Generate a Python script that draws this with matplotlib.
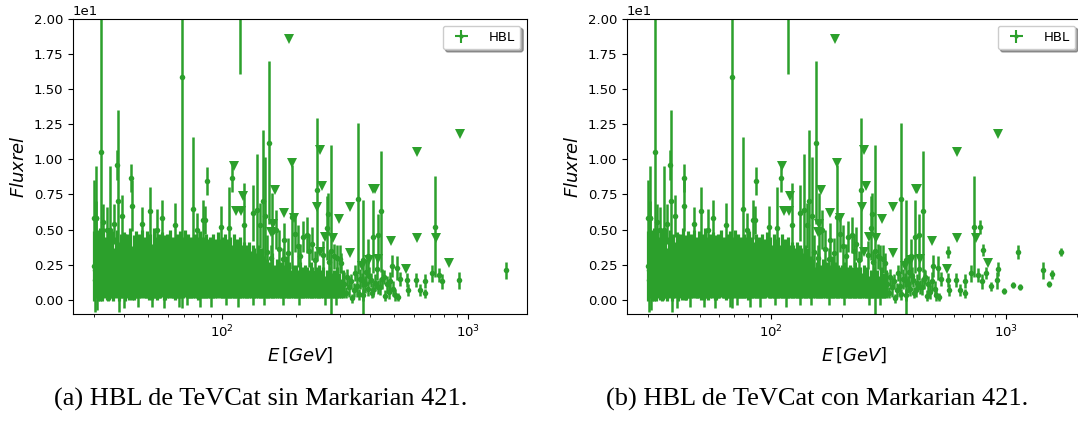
import matplotlib
matplotlib.use("Agg")
import matplotlib.pyplot as plt
import numpy as np

# HBL spectral points from TeVCat: energy [GeV], relative flux and its error.
# Low-energy bulk of the measurements
e_core = [30.0, 30.3, 30.9, 31.2, 31.8, 32.5, 32.9, 33.4, 34.0, 34.4,
          34.8, 35.2, 35.6, 36.1, 36.9, 37.3, 38.0, 38.6, 39.1, 39.9,
          40.4, 41.0, 41.8, 42.3, 43.1, 43.7, 44.5, 45.0, 45.9, 46.6,
          47.2, 48.1, 48.8, 49.5, 50.4, 51.0, 51.9, 52.8, 53.5, 54.3,
          55.2, 56.1, 56.9, 57.8, 58.6, 59.7, 60.5, 61.4, 62.5, 63.3,
          64.4, 65.2, 66.3, 67.4, 68.2, 69.5, 70.4, 71.6, 72.7, 73.8,
          74.9, 76.2, 77.3, 78.6, 79.8, 81.0, 82.4, 83.6, 85.0, 86.2,
          87.7, 89.0, 90.5, 91.8, 93.4, 94.8, 96.4, 97.9, 99.5, 101.0,
          102.8, 104.3, 106.1, 107.7, 109.5, 111.2, 113.1, 114.8, 116.8, 118.6,
          120.6, 122.5, 124.6, 126.5, 128.7, 130.7, 132.9, 135.0, 137.3, 139.5,
          141.8, 144.1, 146.5, 148.8, 151.4, 153.8, 156.4, 158.9, 161.6, 164.2,
          167.0, 169.7, 172.6, 175.4, 178.4, 181.3, 184.4, 187.4, 190.6, 193.7,
          197.0, 200.2, 203.6, 207.0, 210.5, 214.0, 217.6, 221.2, 225.0, 228.7,
          232.5, 236.4, 240.4, 244.3, 248.5, 252.6, 256.9, 261.2, 265.5, 270.0,
          274.6, 279.2, 283.9, 288.7, 293.5, 298.4, 303.4, 308.5]
flux_core = [2.4, 2.1, 2.6, 2.2, 2.5, 2.0, 2.7, 2.3, 1.9, 2.4,
             2.3, 2.2, 2.5, 1.8, 2.3, 2.6, 2.0, 2.4, 2.1, 2.5,
             2.3, 2.4, 2.2, 2.6, 1.9, 2.3, 2.5, 2.1, 2.4, 2.2,
             2.6, 2.3, 2.1, 2.5, 2.2, 2.4, 2.0, 2.6, 2.3, 2.1,
             2.4, 2.2, 2.5, 2.0, 2.3, 2.4, 2.1, 2.6, 2.2, 2.3,
             2.0, 2.4, 2.2, 2.5, 2.1, 2.3, 2.6, 2.0, 2.4, 2.2,
             2.3, 2.1, 2.4, 2.3, 2.0, 2.5, 2.2, 2.3, 2.1, 2.4,
             2.2, 2.3, 2.0, 2.4, 2.2, 2.1, 2.5, 2.2, 2.3, 2.0,
             2.4, 2.2, 2.1, 2.3, 2.0, 2.4, 2.1, 2.2, 1.9, 2.3,
             2.0, 2.1, 2.0, 1.9, 2.1, 1.8, 2.0, 1.9, 1.7, 2.0,
             1.8, 1.9, 1.6, 1.3, 1.5, 1.2, 1.4, 1.7, 1.2, 1.3,
             1.5, 1.2, 1.4, 1.1, 1.3, 1.6, 1.2, 1.4, 1.1, 1.3,
             1.2, 1.3, 1.1, 1.4, 1.2, 1.0, 1.3, 1.2, 1.1, 1.4,
             1.2, 1.1, 1.2, 1.0, 1.3, 1.1, 1.2, 0.9, 1.1, 1.0,
             1.2, 1.0, 1.1, 0.9, 1.2, 1.0, 0.8, 1.1]
err_core = [2.5, 2.0, 2.4, 2.3, 2.6, 2.1, 2.4, 2.2, 1.9, 2.5,
            2.3, 2.1, 2.4, 1.9, 2.2, 2.4, 2.1, 2.3, 2.0, 2.3,
            2.4, 2.3, 2.2, 2.5, 1.9, 2.3, 2.4, 2.0, 2.3, 2.1,
            2.4, 2.2, 2.0, 2.4, 2.2, 2.3, 2.0, 2.5, 2.2, 2.1,
            2.3, 2.1, 2.3, 2.0, 2.3, 2.3, 2.0, 2.4, 2.1, 2.2,
            2.0, 2.3, 2.1, 2.4, 2.0, 2.2, 2.4, 1.9, 2.3, 2.1,
            2.2, 2.0, 2.3, 2.2, 2.0, 2.4, 2.1, 2.2, 2.0, 2.3,
            2.1, 2.2, 1.9, 2.3, 2.1, 2.0, 2.3, 2.1, 2.2, 1.9,
            2.3, 2.1, 2.0, 2.2, 1.9, 2.3, 2.0, 2.1, 1.8, 2.2,
            1.9, 2.0, 1.9, 1.8, 2.0, 1.7, 1.9, 1.8, 1.6, 1.9,
            1.7, 1.8, 1.5, 1.2, 1.4, 1.1, 1.3, 1.6, 1.1, 1.2,
            1.4, 1.1, 1.3, 1.0, 1.2, 1.5, 1.1, 1.3, 1.0, 1.2,
            1.1, 1.2, 1.0, 1.3, 1.1, 0.9, 1.2, 1.1, 1.0, 1.3,
            1.1, 1.0, 1.1, 0.9, 1.2, 1.0, 1.1, 0.8, 1.0, 0.9,
            1.1, 0.9, 1.0, 0.8, 1.1, 0.9, 0.7, 1.0]

# Bright / poorly constrained points
e_bright = [30.0, 30.7, 30.8, 32.2, 32.9, 34.0, 35.1, 36.2, 37.4, 37.8,
            39.2, 42.6, 43.0, 47.2, 50.7, 54.2, 57.0, 64.4, 68.3, 76.0,
            79.0, 83.7, 85.3, 86.5, 98.4, 106.7, 110.0, 118.0, 123.0, 133.6,
            138.0, 143.0, 146.0, 149.0, 155.0, 160.0, 165.0, 179.0, 192.0, 197.0,
            213.0, 221.0, 231.0, 242.0, 267.0, 268.0, 276.0, 285.0, 300.0, 357.0,
            375.0, 393.0, 410.0, 428.0, 442.0, 515.0, 730.0,
            152.0, 158.0, 170.0, 176.0, 185.0, 203.0, 208.0, 226.0, 238.0, 258.0,
            272.0, 292.0, 305.0]
flux_bright = [5.8, 5.8, 5.8, 10.5, 5.55, 5.0, 5.0, 5.4, 9.6, 7.0,
               5.96, 8.7, 6.7, 5.4, 6.3, 5.0, 5.8, 5.3, 15.9, 6.5,
               5.0, 5.7, 5.7, 8.45, 5.2, 5.1, 8.7, 26.0, 5.3, 6.15,
               6.4, 5.3, 7.0, 6.0, 11.2, 4.8, 5.0, 4.25, 5.9, 4.7,
               4.5, 4.6, 4.0, 7.85, 5.1, 6.1, 3.5, 3.1, 2.9, 7.2,
               2.8, 3.1, 4.5, 4.6, 6.3, 2.25, 5.2,
               3.4, 3.0, 3.6, 2.9, 3.3, 3.8, 3.1, 3.5, 2.8, 3.2,
               2.7, 3.0, 2.6]
err_bright = [2.7, 3.7, 1.2, 10.5, 1.3, 1.6, 4.5, 1.4, 1.1, 6.5,
              1.5, 1.0, 1.8, 1.2, 1.7, 1.5, 1.3, 1.6, 16.5, 5.1,
              1.2, 1.4, 1.0, 1.0, 1.5, 2.9, 1.0, 9.9, 3.0, 2.0,
              4.0, 1.6, 5.1, 4.2, 5.8, 2.8, 1.4, 1.2, 3.7, 1.3,
              1.1, 1.3, 1.2, 5.1, 2.3, 1.5, 7.5, 0.9, 1.0, 5.4,
              4.3, 1.2, 2.6, 1.5, 4.3, 0.85, 3.6,
              1.2, 0.9, 1.4, 0.8, 1.1, 1.5, 0.9, 1.2, 0.7, 1.0,
              0.8, 0.9, 0.7]

# Points with large downward errors
e_low = [30.5, 31.0, 37.9, 40.0, 45.3, 52.0, 58.0, 66.8, 72.0, 81.5,
         90.0, 104.0, 116.0, 133.0, 148.0, 176.0, 205.0, 262.0, 290.0]
flux_low = [1.4, 1.5, 1.3, 1.2, 1.1, 1.0, 1.3, 1.1, 1.0, 1.2,
            1.2, 1.1, 1.0, 0.9, 1.0, 0.8, 0.7, 0.6, 0.5]
err_low = [2.3, 2.2, 2.2, 1.8, 1.6, 1.5, 1.9, 1.6, 1.4, 1.7,
           1.7, 1.5, 1.5, 1.3, 1.4, 1.2, 1.1, 1.0, 0.9]

# High-energy tail
e_tail = [313, 318, 322, 327, 333, 337, 342, 348, 353, 359,
          364, 370, 375, 381, 386, 392, 397, 402, 407, 412,
          418, 425, 431, 439, 446, 453, 460, 467, 475, 483,
          490, 497, 505, 518, 526, 564, 572, 612, 638, 665,
          667, 711, 761, 786, 914, 1430]
flux_tail = [1.1, 0.5, 1.6, 0.9, 1.3, 0.1, 0.7, 1.9, 1.0, 0.4,
             1.5, 1.4, 0.33, 1.1, 2.0, 0.8, 1.7, 1.4, 0.5, 0.69,
             1.2, 2.2, 0.9, 0.93, 1.5, 1.65, 0.3, 1.1, 0.57, 1.3,
             2.4, 0.8, 0.33, 0.21, 1.5, 1.4, 0.69, 1.4, 0.69, 0.45,
             1.33, 1.88, 1.75, 1.3, 1.4, 2.1]
err_tail = [0.9, 0.4, 0.6, 0.7, 0.5, 0.3, 0.5, 0.6, 0.8, 0.4,
            0.7, 0.5, 0.4, 0.6, 0.9, 0.5, 0.6, 0.5, 0.4, 0.5,
            0.6, 0.8, 0.5, 0.6, 0.7, 0.5, 0.4, 0.6, 0.5, 0.7,
            0.8, 0.5, 0.4, 0.3, 0.5, 0.5, 0.4, 0.5, 0.4, 0.3,
            0.5, 0.6, 0.5, 0.5, 0.6, 0.6]

# Upper limits
e_ul = [112, 114, 119, 121, 158, 161, 164, 179, 187, 192,
        196, 243, 249, 249, 254, 262, 281, 298, 330, 331,
        370, 395, 412, 418, 430, 484, 560, 618, 620, 742,
        834, 925]
flux_ul = [9.5, 6.3, 6.3, 7.4, 4.8, 5.4, 7.8, 6.2, 18.55, 9.75,
           5.85, 6.6, 10.65, 3.4, 8.1, 4.5, 4.4, 5.75, 3.3, 6.6,
           2.4, 2.8, 7.9, 7.9, 2.9, 4.2, 2.2, 10.5, 4.4, 4.4,
           2.6, 11.8]

# Markarian 421 points
e_mrk = [566, 775, 798, 822, 860, 925, 980, 1071, 1125, 1147,
         1525, 1570, 1714]
flux_mrk = [3.4, 5.2, 3.55, 1.9, 0.95, 2.2, 0.62, 1.05, 3.4, 0.9,
            1.1, 1.8, 3.4]
err_mrk = [0.4, 0.5, 0.4, 0.4, 0.3, 0.5, 0.2, 0.2, 0.5, 0.2,
           0.2, 0.3, 0.3]

captions = ["(a) HBL de TeVCat sin Markarian 421.",
            "(b) HBL de TeVCat con Markarian 421."]

color = "#2ca02c"


def draw_panel(ax, e, flux, err, caption_x, caption):
    # the crowded low-energy points first, then everything else on top
    ax.errorbar(e_core, flux_core, yerr=err_core, fmt="o", color=color,
                ms=4, mew=0, elinewidth=2.3)
    ax.errorbar(e, flux, yerr=err, fmt="o", color=color, ms=4,
                mew=0, elinewidth=1.8)
    ax.plot(e_ul, flux_ul, "v", color=color, ms=7, mew=0)
    # empty container, only used for the legend entry
    proxy = ax.errorbar([], [], xerr=[], yerr=[], fmt="o", color=color,
                        ms=3, mew=0, elinewidth=1.5)
    ax.set_xscale("log")
    ax.set_ylim(-0.98, 20)
    ax.ticklabel_format(axis="y", style="sci", scilimits=(0, 0))
    ax.tick_params(labelsize=9.5)
    ax.yaxis.get_offset_text().set_fontsize(9.5)
    ax.set_xlabel(r"$E\,[GeV]$", fontsize=13)
    ax.set_ylabel(r"$Fluxrel$", fontsize=13)
    ax.legend([proxy], ["HBL"], loc="upper right", shadow=True,
              fontsize=9.5, handletextpad=1.1)
    fig.text(caption_x, 1 - 399 / 421, caption, ha="center", va="center",
             family="Liberation Serif", fontsize=19)


fig = plt.figure(figsize=(10.78, 4.21), dpi=100)
ax1 = fig.add_axes([73 / 1078, 1 - 313.5 / 421, 454 / 1078, 294.5 / 421])
ax2 = fig.add_axes([627 / 1078, 1 - 313.5 / 421, 455 / 1078, 294.5 / 421])

e_rest = e_bright + e_low + e_tail
flux_rest = flux_bright + flux_low + flux_tail
err_rest = err_bright + err_low + err_tail

draw_panel(ax1, e_rest, flux_rest, err_rest, 261 / 1078, captions[0])
draw_panel(ax2, e_rest + e_mrk, flux_rest + flux_mrk, err_rest + err_mrk,
           817 / 1078, captions[1])

fig.savefig("out.png", dpi=100)
